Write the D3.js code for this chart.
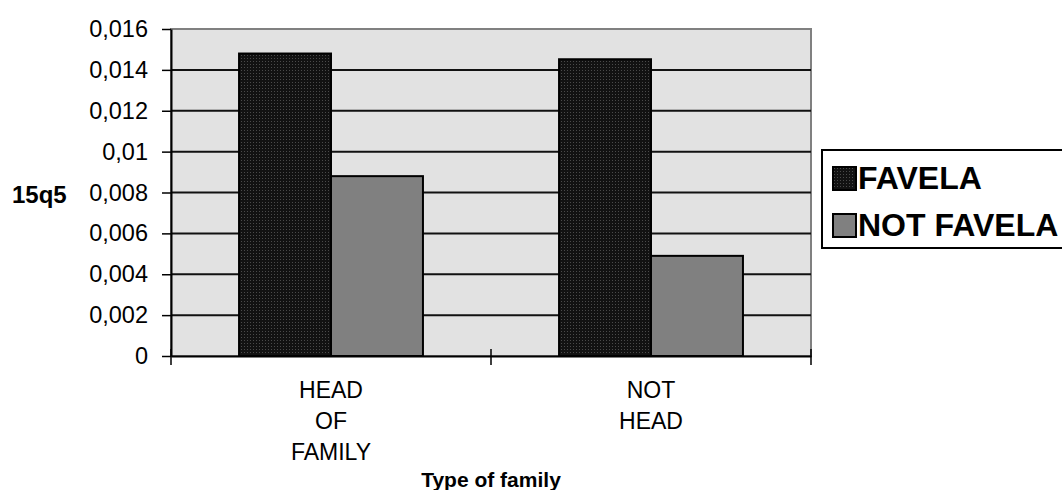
<!DOCTYPE html>
<html>
<head>
<meta charset="utf-8">
<script src="https://cdn.jsdelivr.net/npm/d3@7"></script>
<style>
  body { margin: 0; background: #fff; overflow: hidden; }
  text { font-family: "Liberation Sans", Arial, sans-serif; fill: #000; }
</style>
</head>
<body>
<div id="chart"></div>
<script>
// data
const categories = ["HEAD OF FAMILY", "NOT HEAD"];
const categoryLines = [["HEAD", "OF", "FAMILY"], ["NOT", "HEAD"]];
const seriesNames = ["FAVELA", "NOT FAVELA"];
const favela = [0.0148, 0.01452];
const notFavela = [0.0088, 0.0049];
const yTicks = [0, 0.002, 0.004, 0.006, 0.008, 0.01, 0.012, 0.014, 0.016];
const yTickLabels = ["0", "0,002", "0,004", "0,006", "0,008", "0,01", "0,012", "0,014", "0,016"];

const width = 1062;
const height = 490;
const plot = {left: 171, top: 29, right: 811, bottom: 356};

const svg = d3.select('#chart').append('svg')
  .attr('width', width)
  .attr('height', height);

// patterned fill for the dark bars
const defs = svg.append('defs');
const pat = defs.append('pattern')
  .attr('id', 'dots')
  .attr('width', 3)
  .attr('height', 3)
  .attr('patternUnits', 'userSpaceOnUse');
pat.append('rect').attr('width', 3).attr('height', 3).attr('fill', '#121212');
pat.append('rect').attr('x', 1).attr('y', 1).attr('width', 1).attr('height', 1).attr('fill', '#4a4a4a');

const colors = {"FAVELA": "url(#dots)", "NOT FAVELA": "#808080"};

// scales
const x0 = d3.scaleBand()
  .domain(categories)
  .range([plot.left, plot.right])
  .padding(0);

const x1 = d3.scaleBand()
  .domain(seriesNames)
  .range([0, x0.bandwidth()])
  .paddingInner(0)
  .paddingOuter(0.74);

const y = d3.scaleLinear()
  .domain([0, 0.016])
  .range([plot.bottom, plot.top]);

// plot area
svg.append('rect')
  .attr('x', plot.left)
  .attr('y', plot.top)
  .attr('width', plot.right - plot.left)
  .attr('height', plot.bottom - plot.top)
  .attr('fill', '#e2e2e2')
  .attr('stroke', '#808080')
  .attr('stroke-width', 2);

// gridlines
svg.append('g')
  .selectAll('line')
  .data(yTicks.slice(1, -1))
  .enter().append('line')
  .attr('x1', plot.left)
  .attr('x2', plot.right)
  .attr('y1', d => y(d))
  .attr('y2', d => y(d))
  .attr('stroke', '#111')
  .attr('stroke-width', 2);

// bars
const rows = categories.map((c, i) => ({cat: c, values: [
  {name: "FAVELA", value: favela[i]},
  {name: "NOT FAVELA", value: notFavela[i]}
]}));

svg.append('g')
  .selectAll('g')
  .data(rows)
  .enter().append('g')
  .attr('transform', d => `translate(${x0(d.cat)},0)`)
  .selectAll('rect')
  .data(d => d.values)
  .enter().append('rect')
  .attr('x', d => x1(d.name))
  .attr('y', d => y(d.value))
  .attr('width', x1.bandwidth())
  .attr('height', d => y(0) - y(d.value))
  .attr('fill', d => colors[d.name])
  .attr('stroke', '#000')
  .attr('stroke-width', 2);

// y axis
const yAxis = d3.axisLeft(y)
  .tickValues(yTicks)
  .tickFormat((d, i) => yTickLabels[i])
  .tickSizeInner(9)
  .tickSizeOuter(0)
  .tickPadding(14);

const yAxisG = svg.append('g')
  .attr('transform', `translate(${plot.left},0)`)
  .call(yAxis);
yAxisG.select('.domain').attr('stroke', '#000').attr('stroke-width', 2);
yAxisG.selectAll('.tick line').attr('stroke', '#000').attr('stroke-width', 1.5);
yAxisG.selectAll('.tick text')
  .style('font-size', '23.5px')
  .style('font-family', '"Liberation Sans", Arial, sans-serif')
  .attr('fill', '#000');

// x axis
const xAxis = d3.axisBottom(x0)
  .tickSize(0)
  .tickPadding(0)
  .tickFormat('');

const xAxisG = svg.append('g')
  .attr('transform', `translate(0,${plot.bottom})`)
  .call(xAxis);
xAxisG.select('.domain').attr('stroke', '#000').attr('stroke-width', 2);

// tick marks at category boundaries
const boundaries = categories.map(c => x0(c)).concat([plot.right]);
xAxisG.selectAll('line.boundary')
  .data(boundaries)
  .enter().append('line')
  .attr('class', 'boundary')
  .attr('x1', d => d)
  .attr('x2', d => d)
  .attr('y1', -7)
  .attr('y2', 9)
  .attr('stroke', '#000')
  .attr('stroke-width', 1.5);

// multi-line category labels
xAxisG.selectAll('text.catlabel')
  .data(categories)
  .enter().append('text')
  .attr('class', 'catlabel')
  .attr('x', d => x0(d) + x0.bandwidth() / 2)
  .attr('y', 42)
  .attr('text-anchor', 'middle')
  .style('font-size', '23px')
  .selectAll('tspan')
  .data((d, i) => categoryLines[i])
  .enter().append('tspan')
  .attr('x', function() { return d3.select(this.parentNode).attr('x'); })
  .attr('dy', (d, i) => i === 0 ? 0 : 31)
  .text(d => d);

// axis titles
svg.append('text')
  .attr('x', (plot.left + plot.right) / 2)
  .attr('y', 487)
  .attr('text-anchor', 'middle')
  .style('font-size', '21px')
  .style('font-weight', 'bold')
  .text('Type of family');

svg.append('text')
  .attr('x', 12)
  .attr('y', 203)
  .style('font-size', '24px')
  .style('font-weight', 'bold')
  .text('15q5');

// legend
const legendG = svg.append('g')
  .attr('transform', 'translate(822,150)');

legendG.append('rect')
  .attr('width', 260)
  .attr('height', 98)
  .attr('fill', '#fff')
  .attr('stroke', '#000')
  .attr('stroke-width', 2);

const item = legendG.selectAll('g.item')
  .data(seriesNames)
  .enter().append('g')
  .attr('class', 'item')
  .attr('transform', (d, i) => `translate(11,${17 + i * 47})`);

item.append('rect')
  .attr('width', 23)
  .attr('height', 23)
  .attr('fill', d => colors[d])
  .attr('stroke', '#000')
  .attr('stroke-width', 2);

item.append('text')
  .attr('x', 25)
  .attr('y', 22)
  .style('font-size', '32px')
  .style('font-weight', 'bold')
  .text(d => d);
</script>
</body>
</html>
